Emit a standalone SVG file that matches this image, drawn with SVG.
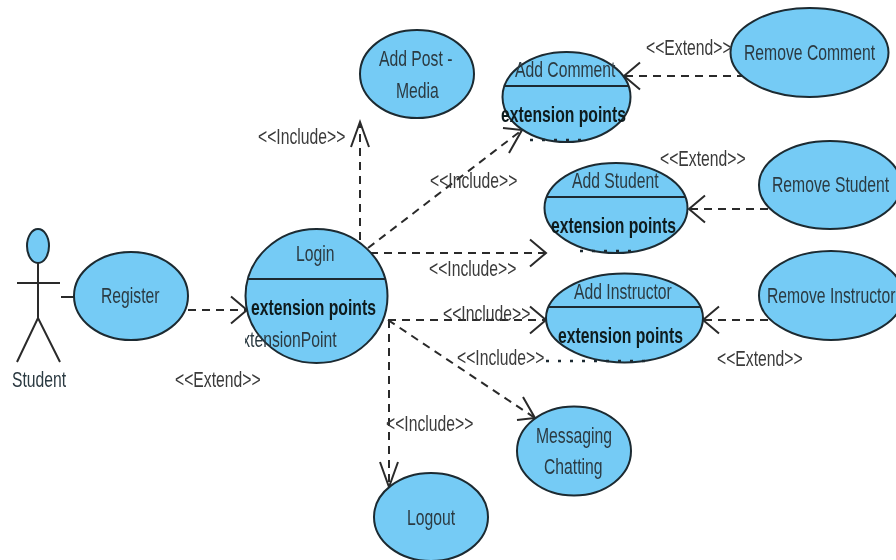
<svg xmlns="http://www.w3.org/2000/svg" width="896" height="560" viewBox="0 0 896 560">
<style>
.n{fill:#74cbf5;stroke:#1c2a30;stroke-width:2}
.d{stroke:#1c2a30;stroke-width:2;fill:none}
.a{stroke:#2a2a2a;stroke-width:2;fill:none}
.q{stroke:#2a2a2a;stroke-width:2;fill:none;stroke-dasharray:8 6}
.c{marker-end:url(#v)}
.u{marker-end:url(#w)}
.m{stroke:#1c2a30;stroke-width:2.500;fill:none;stroke-dasharray:3 9}
text{font-family:"Liberation Sans",Arial,sans-serif;font-size:22px;fill:#2c3a42}
.b{font-weight:bold;fill:#111a1f}
.l{fill:#3a3a3a}
</style>
<defs>
<marker id="v" markerUnits="userSpaceOnUse" markerWidth="40" markerHeight="40" refX="20" refY="20" orient="auto" viewBox="0 0 40 40">
<path d="M4,6.500 L20,20 L4,33.500" fill="none" stroke="#2a2a2a" stroke-width="2"/>
</marker>
<marker id="w" markerUnits="userSpaceOnUse" markerWidth="40" markerHeight="40" refX="30" refY="20" orient="auto" viewBox="0 0 40 40">
<path d="M5,11 L30,20 L5,29" fill="none" stroke="#2a2a2a" stroke-width="2"/>
</marker>
<clipPath id="cl"><rect x="245" y="320" width="100" height="40"/></clipPath>
<filter id="s" x="0" y="0" width="100%" height="100%"><feGaussianBlur stdDeviation="0.45"/></filter>
</defs>
<g filter="url(#s)">
<rect width="896" height="560" fill="#fff"/>
<g id="connectors">
<line class="a" x1="61" y1="297" x2="74" y2="297"/>
<line class="q c" x1="188" y1="310" x2="247" y2="310"/>
<line class="q u" x1="360" y1="240" x2="360" y2="122"/>
<line class="q" x1="368" y1="248" x2="522" y2="130"/>
<path class="a" d="M503,128 L522,130 L509,153"/>
<line class="q c" x1="370" y1="253" x2="546" y2="253"/>
<line class="q c" x1="388" y1="320" x2="546" y2="320"/>
<line class="q" x1="388" y1="320" x2="535" y2="418"/>
<path class="a" d="M523,397 L535,418 L517,420"/>
<line class="q u" x1="389" y1="320" x2="389" y2="487"/>
<line class="q c" x1="745" y1="76" x2="624" y2="76"/>
<line class="q c" x1="768" y1="209" x2="689" y2="209"/>
<line class="q c" x1="768" y1="320" x2="703" y2="320"/>
</g>
<g id="student">
<ellipse class="n" cx="38" cy="246" rx="11" ry="17"/>
<path class="a" d="M38,263 V318 M17,283 H60 M17,362 L38,318 L60,362"/>
<text transform="translate(12 387) scale(.715 1)">Student</text>
</g>
<g id="register">
<ellipse class="n" cx="131" cy="296" rx="57" ry="44"/>
<text transform="translate(101 303) scale(.715 1)">Register</text>
</g>
<g id="login">
<ellipse class="n" cx="316.500" cy="296" rx="71" ry="67"/>
<line class="d" x1="247" y1="279" x2="386" y2="279"/>
<text transform="translate(296 261) scale(.715 1)">Login</text>
<text class="b" transform="translate(251 315) scale(.715 1)">extension points</text>
<g clip-path="url(#cl)"><text transform="translate(233.500 347) scale(.715 1)">extensionPoint</text></g>
</g>
<g id="add-post">
<ellipse class="n" cx="417" cy="74" rx="57" ry="44"/>
<text transform="translate(379 66) scale(.715 1)">Add Post -</text>
<text transform="translate(396 98) scale(.715 1)">Media</text>
</g>
<g id="add-comment">
<ellipse class="n" cx="566.500" cy="97" rx="64" ry="45"/>
<line class="d" x1="504" y1="86" x2="628" y2="86"/>
<text transform="translate(515 77) scale(.715 1)">Add Comment</text>
<text class="b" transform="translate(501 122) scale(.715 1)">extension points</text>
<path class="m" d="M530,140 H584"/>
</g>
<g id="remove-comment">
<ellipse class="n" cx="809.500" cy="52.500" rx="79" ry="44.500"/>
<text transform="translate(744 60) scale(.715 1)">Remove Comment</text>
</g>
<g id="add-student">
<ellipse class="n" cx="616" cy="208" rx="71.500" ry="45"/>
<line class="d" x1="547" y1="197" x2="686" y2="197"/>
<text transform="translate(572 188) scale(.715 1)">Add Student</text>
<text class="b" transform="translate(551 233) scale(.715 1)">extension points</text>
<path class="m" d="M580,251 H636"/>
</g>
<g id="remove-student">
<ellipse class="n" cx="830" cy="185" rx="71" ry="44"/>
<text transform="translate(772 192) scale(.715 1)">Remove Student</text>
</g>
<g id="add-instructor">
<ellipse class="n" cx="624.500" cy="318" rx="78.500" ry="44.500"/>
<line class="d" x1="548" y1="307" x2="701" y2="307"/>
<text transform="translate(574 299) scale(.715 1)">Add Instructor</text>
<text class="b" transform="translate(558 343) scale(.715 1)">extension points</text>
<path class="m" d="M546,361 H650"/>
</g>
<g id="remove-instructor">
<ellipse class="n" cx="831" cy="295.500" rx="72" ry="44.500"/>
<text transform="translate(767 303) scale(.715 1)">Remove Instructor</text>
</g>
<g id="messaging">
<ellipse class="n" cx="574" cy="451" rx="57" ry="44.500"/>
<text transform="translate(536 443) scale(.715 1)">Messaging</text>
<text transform="translate(544 474) scale(.715 1)">Chatting</text>
</g>
<g id="logout">
<ellipse class="n" cx="431" cy="517" rx="57" ry="44"/>
<text transform="translate(407 525) scale(.715 1)">Logout</text>
</g>
<g id="labels">
<text class="l" transform="translate(258 144) scale(.715 1)">&lt;&lt;Include&gt;&gt;</text>
<text class="l" transform="translate(430 188) scale(.715 1)">&lt;&lt;Include&gt;&gt;</text>
<text class="l" transform="translate(429 276) scale(.715 1)">&lt;&lt;Include&gt;&gt;</text>
<text class="l" transform="translate(443 321) scale(.715 1)">&lt;&lt;Include&gt;&gt;</text>
<text class="l" transform="translate(457 365) scale(.715 1)">&lt;&lt;Include&gt;&gt;</text>
<text class="l" transform="translate(386 431) scale(.715 1)">&lt;&lt;Include&gt;&gt;</text>
<text class="l" transform="translate(175 387) scale(.715 1)">&lt;&lt;Extend&gt;&gt;</text>
<text class="l" transform="translate(646 55) scale(.715 1)">&lt;&lt;Extend&gt;&gt;</text>
<text class="l" transform="translate(660 166) scale(.715 1)">&lt;&lt;Extend&gt;&gt;</text>
<text class="l" transform="translate(717 366) scale(.715 1)">&lt;&lt;Extend&gt;&gt;</text>
</g>
</g>
</svg>
